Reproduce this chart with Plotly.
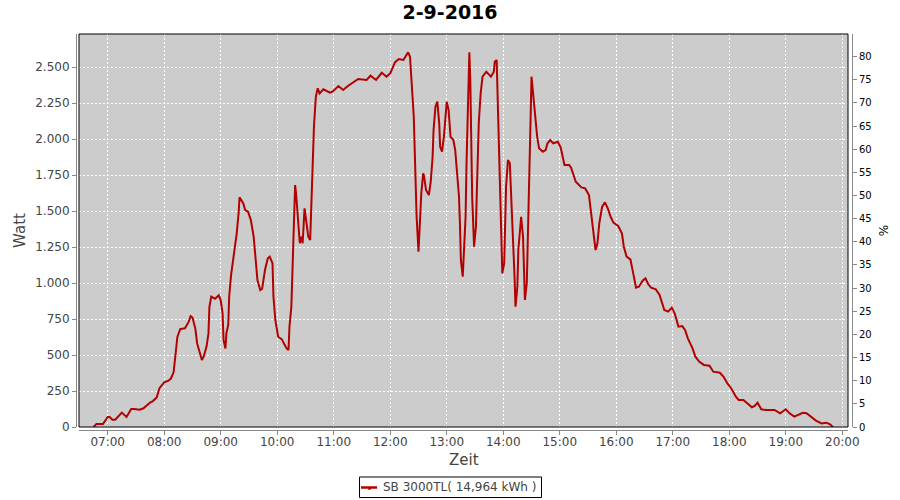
import plotly.graph_objects as go

DAY = "2016-09-02"

times = (
    ["06:45", "06:48", "06:55"]
    + ["07:00", "07:02", "07:05", "07:08", "07:13", "07:15", "07:20", "07:25", "07:28", "07:34",
       "07:38", "07:41", "07:45", "07:48", "07:52", "07:55"]
    + ["08:00", "08:04", "08:07", "08:10", "08:11", "08:12", "08:14", "08:17", "08:22", "08:26",
       "08:28", "08:30", "08:33", "08:35", "08:38", "08:40", "08:42", "08:45", "08:47", "08:48",
       "08:50", "08:54", "08:58"]
    + ["09:00", "09:02", "09:03", "09:05", "09:06", "09:08", "09:09", "09:11", "09:13", "09:15",
       "09:17", "09:19", "09:20", "09:24", "09:26", "09:29", "09:32", "09:35", "09:37", "09:39",
       "09:42", "09:44", "09:47", "09:50", "09:52", "09:55", "09:56", "09:58"]
    + ["10:01", "10:05", "10:07", "10:10", "10:12", "10:13", "10:15", "10:16", "10:17", "10:18",
       "10:19", "10:20", "10:22", "10:24", "10:26", "10:27", "10:29", "10:31", "10:33", "10:35",
       "10:36", "10:37", "10:38", "10:39", "10:41", "10:43", "10:45", "10:49", "10:56", "10:59"]
    + ["11:05", "11:10", "11:15", "11:21", "11:26", "11:35", "11:39", "11:45", "11:51", "11:56"]
    + ["12:00", "12:05", "12:09", "12:14", "12:19", "12:21", "12:23", "12:25", "12:26", "12:27",
       "12:28", "12:30", "12:32", "12:33", "12:35", "12:36", "12:38", "12:41", "12:43", "12:45",
       "12:46", "12:48", "12:50", "12:52", "12:53", "12:55", "12:57", "12:59"]
    + ["13:00", "13:02", "13:04", "13:07", "13:09", "13:11", "13:13", "13:14", "13:15", "13:17",
       "13:18", "13:20", "13:21", "13:22", "13:23", "13:24", "13:25", "13:26", "13:27", "13:29",
       "13:31", "13:32", "13:34", "13:36", "13:38", "13:42", "13:47", "13:50", "13:51", "13:53",
       "13:54", "13:56", "13:57", "13:59"]
    + ["14:01", "14:02", "14:03", "14:05", "14:07", "14:08", "14:10", "14:12", "14:13", "14:15",
       "14:16", "14:18", "14:19", "14:21", "14:22", "14:23", "14:25", "14:27", "14:28", "14:29",
       "14:30", "14:31", "14:33", "14:34", "14:36", "14:38", "14:42", "14:45", "14:47", "14:50",
       "14:53", "14:58"]
    + ["15:01", "15:05", "15:10", "15:12", "15:17", "15:23", "15:27", "15:31", "15:33", "15:36",
       "15:38", "15:40", "15:42", "15:45", "15:48", "15:51", "15:54", "15:57"]
    + ["16:02", "16:06", "16:08", "16:11", "16:15", "16:18", "16:21", "16:24", "16:28", "16:31",
       "16:34", "16:37", "16:42", "16:46", "16:49", "16:51", "16:55", "16:59"]
    + ["17:02", "17:06", "17:10", "17:13", "17:16", "17:21", "17:24", "17:28", "17:33", "17:39",
       "17:43", "17:50", "17:54", "17:58"]
    + ["18:02", "18:07", "18:10", "18:15", "18:20", "18:24", "18:27", "18:30", "18:34", "18:39",
       "18:48", "18:54"]
    + ["19:00", "19:04", "19:09", "19:14", "19:18", "19:22", "19:27", "19:32", "19:38", "19:43",
       "19:47", "19:50"]
)

watts = (
    [0, 20, 20]
    + [70, 70, 50, 50, 90, 100, 70, 125, 125, 120,
       130, 150, 170, 180, 205, 270]
    + [310, 320, 335, 380, 440, 525, 625, 680, 685, 730,
       770, 760, 685, 580, 500, 465, 490, 560, 650, 835,
       905, 890, 915]
    + [880, 790, 605, 545, 650, 710, 905, 1055, 1150, 1230,
       1345, 1485, 1595, 1553, 1507, 1495, 1437, 1322, 1183, 1021,
       951, 960, 1090, 1171, 1183, 1137, 905, 743]
    + [627, 609, 581, 546, 535, 697, 835, 1044, 1252, 1449,
       1680, 1623, 1460, 1276, 1322, 1276, 1518, 1415, 1322, 1299,
       1485, 1692, 1877, 2085, 2293, 2352, 2317, 2345, 2322, 2330]
    + [2368, 2340, 2368, 2398, 2417, 2410, 2440, 2410, 2460, 2433]
    + [2456, 2532, 2555, 2549, 2602, 2571, 2340, 2155, 1923, 1680,
       1460, 1217, 1460, 1623, 1762, 1738, 1646, 1611, 1703, 1877,
       2062, 2224, 2259, 2109, 1946, 1912, 2016, 2178]
    + [2259, 2201, 2016, 1993, 1923, 1762, 1599, 1415, 1160, 1044,
       1183, 1460, 1831, 2109, 2526, 2602, 2410, 2062, 1599, 1252,
       1391, 1646, 2109, 2317, 2433, 2467, 2433, 2467, 2537, 2549,
       2293, 1715, 1415, 1067]
    + [1137, 1368, 1669, 1854, 1831, 1669, 1391, 1044, 835, 974,
       1229, 1437, 1460, 1322, 974, 882, 998, 1484, 1831, 2132,
       2433, 2363, 2224, 2109, 2016, 1935, 1912, 1923, 1970, 1993,
       1970, 1981]
    + [1940, 1820, 1820, 1800, 1703, 1664, 1657, 1611, 1507, 1368,
       1229, 1276, 1415, 1530, 1560, 1518, 1460, 1419]
    + [1396, 1345, 1252, 1183, 1164, 1067, 968, 974, 1016, 1032,
       991, 968, 956, 917, 859, 813, 801, 829]
    + [790, 697, 701, 674, 616, 546, 488, 454, 431, 426,
       384, 377, 349, 303]
    + [269, 211, 188, 188, 160, 137, 146, 169, 123, 118,
       118, 95]
    + [123, 95, 72, 90, 99, 95, 67, 44, 25, 30,
       19, 0]
)
assert len(times) == len(watts)

title_text = "2-9-2016"
series_name = "SB 3000TL( 14,964 kWh )"
y_title = "Watt"
y2_title = "%"
x_title = "Zeit"

x_vals = [f"{DAY} {t}" for t in times]

FONT = "DejaVu Sans"
GRAY = "#444444"
AXIS_GRAY = "#888888"
RED = "#b30000"

fig = go.Figure()
fig.add_trace(go.Scatter(
    x=x_vals, y=watts, mode="lines", name=series_name,
    line=dict(color=RED, width=2), showlegend=False,
))
# empty trace to activate the secondary (percent) axis
fig.add_trace(go.Scatter(x=[], y=[], yaxis="y2", showlegend=False, hoverinfo="skip"))

W, H = 900, 500
ml, mr, mt, mb = 76, 48, 34, 70
pw = W - ml - mr
ph = H - mt - mb
xdom = [3 / pw, (848 - ml) / pw]
ydom = [3 / ph, 1.0]


def px_x(px):
    return (px - ml) / pw


def px_y(py):
    return (H - mb - py) / ph


# legend box drawn by hand (JFreeChart style)
leg_box = dict(type="rect", xref="paper", yref="paper",
               x0=px_x(359.5), x1=px_x(541.5), y0=px_y(497.5), y1=px_y(477),
               line=dict(color="black", width=1), fillcolor="white")
leg_line = dict(type="line", xref="paper", yref="paper",
                x0=px_x(361), x1=px_x(377), y0=px_y(487.5), y1=px_y(487.5),
                line=dict(color=RED, width=2.5))
leg_dot = dict(type="rect", xref="paper", yref="paper",
               x0=px_x(368.5), x1=px_x(370.5), y0=px_y(489.5), y1=px_y(487.5),
               line=dict(color=RED, width=0.5), fillcolor=RED)
plot_border = dict(type="rect", xref="x domain", yref="y domain", x0=0, x1=1, y0=0, y1=1,
                   line=dict(color="black", width=1), fillcolor="rgba(0,0,0,0)", layer="above")

fig.update_layout(
    width=W, height=H,
    margin=dict(l=ml, r=mr, t=mt, b=mb, pad=0, autoexpand=False),
    paper_bgcolor="white",
    plot_bgcolor="#cccccc",
    separators=",.",
    font=dict(family=FONT, size=12, color=GRAY),
    title=dict(text=title_text, x=0.5, xref="container", xanchor="center",
               y=1 - 12.5 / H, yref="container", yanchor="middle", automargin=False,
               font=dict(family=FONT, size=19, color="black", weight="bold")),
    showlegend=False,
    xaxis=dict(
        type="date", domain=xdom, anchor="free", position=0, automargin=False,
        range=[f"{DAY} 06:29:32", f"{DAY} 20:06:03"],
        tick0=f"{DAY} 07:00", dtick=3600000, tickformat="%H:%M",
        showline=True, linecolor=AXIS_GRAY, linewidth=1,
        ticks="outside", ticklen=4, tickcolor=AXIS_GRAY, ticklabelstandoff=-3,
        tickfont=dict(family=FONT, size=12, color=GRAY),
        showgrid=True, gridcolor="white", gridwidth=1, griddash="2px,2px",
        zeroline=False,
    ),
    yaxis=dict(
        domain=ydom, anchor="free", position=0, automargin=False,
        range=[0, 2729.2], tick0=0, dtick=250, tickformat=",d",
        showline=True, linecolor=AXIS_GRAY, linewidth=1,
        ticks="outside", ticklen=4, tickcolor=AXIS_GRAY,
        tickfont=dict(family=FONT, size=12, color=GRAY),
        showgrid=True, gridcolor="white", gridwidth=1, griddash="2px,2px",
        zeroline=False,
        title=dict(text=y_title, font=dict(family=FONT, size=15, color=GRAY), standoff=4),
    ),
    yaxis2=dict(
        overlaying="y", side="right", anchor="free", position=1, automargin=False,
        range=[0, 84.88], tick0=0, dtick=5,
        showline=True, linecolor=AXIS_GRAY, linewidth=1,
        ticks="outside", ticklen=4, tickcolor=AXIS_GRAY,
        tickfont=dict(family=FONT, size=10, color="black"),
        showgrid=False, zeroline=False,
        title=dict(text=y2_title, font=dict(family=FONT, size=12, color="black"), standoff=8),
    ),
    shapes=[plot_border, leg_box, leg_line, leg_dot],
    annotations=[
        dict(text=x_title, xref="paper", yref="paper",
             x=(xdom[0] + xdom[1]) / 2, y=px_y(460), xanchor="center", yanchor="middle",
             showarrow=False, font=dict(family=FONT, size=15, color=GRAY)),
        dict(text=series_name, xref="paper", yref="paper",
             x=px_x(380.5), y=px_y(487.5), xanchor="left", yanchor="middle",
             showarrow=False, font=dict(family=FONT, size=12, color=GRAY)),
    ],
)

fig.write_html("out.html", post_script="document.body.style.margin='0';",
               config={"displayModeBar": False})
